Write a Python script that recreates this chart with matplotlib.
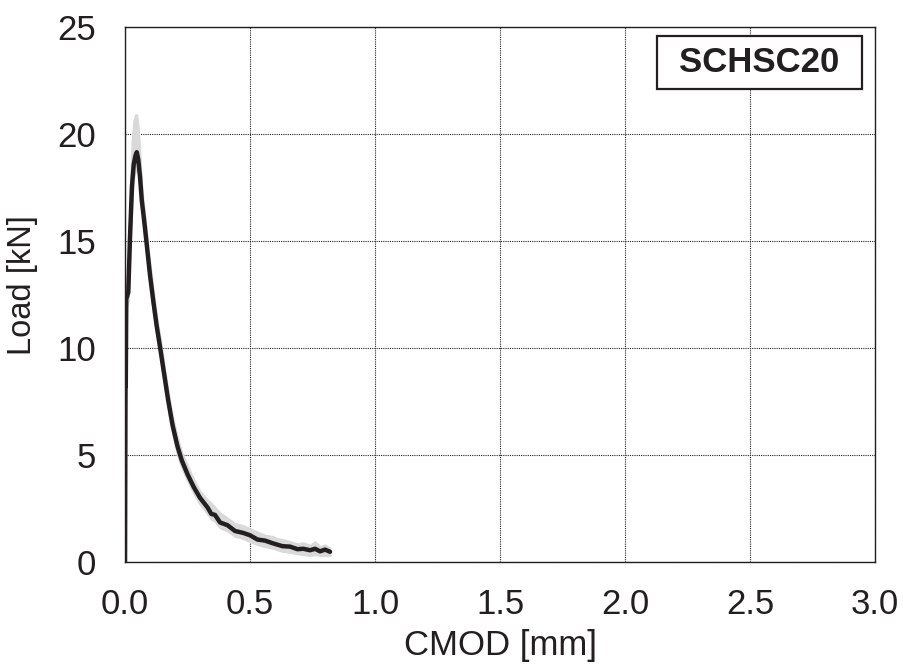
import matplotlib.pyplot as plt
from matplotlib.patches import Rectangle

plt.rcParams['font.family'] = ['Liberation Sans', 'DejaVu Sans']

# mean load-CMOD curve
cmod = [0.0, 0.002, 0.003, 0.005, 0.008, 0.013, 0.02, 0.028, 0.035, 0.042, 0.047,
        0.053, 0.06, 0.067, 0.078, 0.089, 0.1, 0.113, 0.127, 0.14, 0.155, 0.172,
        0.19, 0.21, 0.227, 0.25, 0.275, 0.30, 0.33, 0.345, 0.36, 0.38, 0.41, 0.44,
        0.473, 0.50, 0.53, 0.56, 0.59, 0.607, 0.63, 0.66, 0.69, 0.713, 0.74, 0.76,
        0.78, 0.80, 0.82]
load = [0.0, 8.2, 8.2, 12.3, 12.4, 12.6, 15.2, 17.6, 18.6, 19.0, 19.15,
        18.8, 18.0, 16.9, 15.8, 14.6, 13.4, 12.2, 11.0, 10.05, 8.9, 7.6,
        6.4, 5.4, 4.75, 4.1, 3.5, 3.0, 2.55, 2.25, 2.2, 1.85, 1.72, 1.45,
        1.36, 1.25, 1.05, 1.0, 0.88, 0.82, 0.74, 0.72, 0.6, 0.62, 0.55, 0.62,
        0.5, 0.58, 0.48]
# scatter band of the individual specimens
band_low = [0.0, 7.8, 7.9, 11.8, 12.0, 12.2, 14.6, 17.0, 18.0, 18.3, 18.4,
            18.1, 17.4, 16.4, 15.3, 14.1, 12.9, 11.7, 10.6, 9.6, 8.5, 7.2,
            6.0, 5.0, 4.4, 3.8, 3.2, 2.7, 2.25, 2.0, 1.9, 1.6, 1.45, 1.2,
            1.1, 0.95, 0.82, 0.72, 0.65, 0.58, 0.5, 0.45, 0.38, 0.35, 0.3, 0.35,
            0.3, 0.3, 0.3]
band_high = [0.0, 8.6, 12.0, 12.8, 13.2, 14.0, 17.0, 19.6, 20.6, 20.9, 20.9,
             20.3, 19.0, 17.5, 16.3, 15.1, 13.9, 12.7, 11.4, 10.5, 9.3, 8.0,
             6.8, 5.8, 5.1, 4.5, 3.85, 3.3, 2.9, 2.75, 2.55, 2.3, 2.05, 1.8,
             1.7, 1.55, 1.4, 1.25, 1.2, 1.1, 1.05, 0.95, 0.85, 0.9, 0.78, 0.95,
             0.72, 0.8, 0.65]

x_ticks = [0.0, 0.5, 1.0, 1.5, 2.0, 2.5, 3.0]
y_ticks = [0, 5, 10, 15, 20, 25]
label = "SCHSC20"

fig = plt.figure(figsize=(9.04, 6.71), dpi=100)
ax = fig.add_axes([0.1383, 0.1624, 0.8297, 0.7974])

ax.fill_between(cmod, band_low, band_high, color="#d9d9d9", linewidth=1.5,
                edgecolor="#d9d9d9", zorder=2)
ax.plot(cmod, load, color="#231f20", linewidth=3.2, solid_joinstyle="round",
        solid_capstyle="round", zorder=3)

ax.set_xlim(0, 3)
ax.set_ylim(0, 25)
ax.set_xticks(x_ticks)
ax.set_xticklabels([f"{v:.1f}" for v in x_ticks])
ax.set_yticks(y_ticks)
ax.tick_params(length=0, labelsize=25, colors="#231f20")
ax.tick_params(axis="x", pad=19)
ax.tick_params(axis="y", pad=21)
ax.grid(True, color="#231f20", linestyle=(0, (1, 1)), linewidth=0.8, zorder=1)
ax.set_axisbelow(True)
for s in ax.spines.values():
    s.set_linewidth(1.0)
    s.set_color("#231f20")

ax.set_xlabel("CMOD [mm]", fontsize=25, color="#231f20")
ax.set_ylabel("Load [kN]", fontsize=23.5, color="#231f20")
ax.xaxis.set_label_coords(0.5, -0.125)
ax.yaxis.set_label_coords(-0.116, 0.517)

# specimen label box
ax.add_patch(Rectangle((0.709, 0.884), 0.274, 0.099, transform=ax.transAxes,
                       facecolor="white", edgecolor="#231f20", linewidth=1.6,
                       zorder=5))
ax.text(0.846, 0.933, label, transform=ax.transAxes, ha="center", va="center",
        fontsize=25, fontweight="bold", color="#231f20", zorder=6)

fig.savefig("out.png", dpi=100)
